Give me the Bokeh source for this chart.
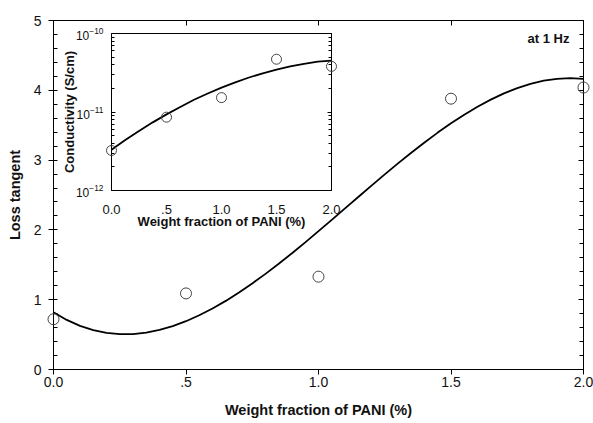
from bokeh.plotting import figure
from bokeh.models import (Range1d, LinearAxis, LogAxis, FixedTicker, Label,
                          SingleIntervalTicker, CustomJSTickFormatter)
from bokeh.embed import file_html
from bokeh.resources import INLINE

FONT = "Liberation Sans"

# ---- data: main plot (loss tangent at 1 Hz) ----
pani_wt = [0.0, 0.5, 1.0, 1.5, 2.0]
loss_tangent = [0.72, 1.09, 1.33, 3.88, 4.04]

fit_x = [0.00, 0.05, 0.10, 0.15, 0.20, 0.25, 0.30, 0.35, 0.40, 0.45,
         0.50, 0.55, 0.60, 0.65, 0.70, 0.75, 0.80, 0.85, 0.90, 0.95,
         1.00, 1.05, 1.10, 1.15, 1.20, 1.25, 1.30, 1.35, 1.40, 1.45,
         1.50, 1.55, 1.60, 1.65, 1.70, 1.75, 1.80, 1.85, 1.90, 1.95, 2.00]
fit_loss = [0.820, 0.710, 0.625, 0.564, 0.524, 0.506, 0.508, 0.529, 0.567, 0.622,
            0.692, 0.777, 0.874, 0.983, 1.103, 1.233, 1.370, 1.515, 1.666, 1.822,
            1.982, 2.144, 2.308, 2.472, 2.635, 2.795, 2.953, 3.106, 3.253, 3.394,
            3.528, 3.651, 3.764, 3.866, 3.956, 4.031, 4.092, 4.138, 4.165, 4.174, 4.164]

# ---- data: inset (conductivity, S/cm) ----
conductivity = [3.45e-12, 9.0e-12, 1.58e-11, 4.77e-11, 3.88e-11]
cond_fit_x = [0.0, 0.125, 0.25, 0.375, 0.5, 0.625, 0.75, 0.875, 1.0,
              1.125, 1.25, 1.375, 1.5, 1.625, 1.75, 1.875, 2.0]
cond_fit = [3.31e-12, 4.40e-12, 5.74e-12, 7.38e-12, 9.33e-12, 1.16e-11,
            1.43e-11, 1.72e-11, 2.04e-11, 2.39e-11, 2.75e-11, 3.11e-11,
            3.47e-11, 3.80e-11, 4.11e-11, 4.37e-11, 4.50e-11]

x_tick_values = [0, 0.5, 1, 1.5, 2]
x_tick_labels = ["0.0", ".5", "1.0", "1.5", "2.0"]
cond_major = [1e-12, 1e-11, 1e-10]
cond_minor = [m * 10.0 ** e for e in (-12, -11) for m in range(2, 10)]

blank = CustomJSTickFormatter(code="return ''")

# ---------------- geometry ----------------
W, H = 593, 423
BL, BR, BT, BB = 53, 10, 20, 54
X0, X1, Y0, Y1 = 0.0, 2.0, 0.0, 5.0

IBL, IBR, IBT, IBB = 66, 10, 13, 38
IFW, IFH = 220, 160
IW, IH = IBL + IFW + IBR, IBT + IFH + IBB
ILEFT, ITOP = 111 - IBL, 20
IY0, IY1 = 1e-12, 1e-10

M = 8  # extra room for markers at the frame edges


def style_axis(ax, tick_size, label_size):
    ax.axis_line_color = "black"
    ax.major_tick_line_color = "black"
    ax.minor_tick_line_color = "black"
    ax.major_label_text_font = FONT
    ax.major_label_text_font_size = tick_size
    ax.major_label_text_color = "#111111"
    ax.axis_label_text_font = FONT
    ax.axis_label_text_font_size = label_size
    ax.axis_label_text_font_style = "bold"
    ax.axis_label_text_color = "#111111"


def bare(fig):
    fig.grid.visible = False
    fig.outline_line_color = None
    fig.background_fill_alpha = 0
    fig.border_fill_alpha = 0


# ================= main figure =================
p = figure(width=W, height=H, output_backend="svg", toolbar_location=None,
           x_range=Range1d(X0, X1), y_range=Range1d(Y0, Y1),
           min_border_left=BL, min_border_right=BR, min_border_top=BT,
           min_border_bottom=BB,
           x_axis_label="Weight fraction of PANI (%)", y_axis_label="Loss tangent",
           styles={"position": "absolute", "left": "0px", "top": "0px"})
p.grid.visible = False
p.outline_line_color = "black"

xa = p.xaxis[0]
xa.ticker = FixedTicker(ticks=x_tick_values)
xa.major_label_overrides = dict(zip(x_tick_values, x_tick_labels))
xa.major_tick_out = 5
xa.major_tick_in = 0
xa.minor_tick_out = 0
xa.minor_tick_in = 0
xa.major_label_standoff = 2
xa.axis_label_standoff = 12
style_axis(xa, "14px", "14.5px")

ya = p.yaxis[0]
ya.ticker = SingleIntervalTicker(interval=1, num_minor_ticks=5)
ya.major_tick_out = 5
ya.major_tick_in = 0
ya.minor_tick_out = 0
ya.minor_tick_in = 4
ya.major_label_standoff = 7
ya.axis_label_standoff = 8
style_axis(ya, "14px", "14.5px")

top = LinearAxis(ticker=FixedTicker(ticks=x_tick_values), formatter=blank,
                 major_tick_in=5, major_tick_out=0, minor_tick_in=0, minor_tick_out=0,
                 major_label_standoff=0, major_label_text_font_size="8px",
                 axis_line_color="black", major_tick_line_color="black")
p.add_layout(top, "above")
right = LinearAxis(ticker=SingleIntervalTicker(interval=1, num_minor_ticks=5),
                   formatter=blank,
                   major_tick_in=5, major_tick_out=0, minor_tick_in=4, minor_tick_out=0,
                   major_label_standoff=0, major_label_text_font_size="8px",
                   axis_line_color="black", major_tick_line_color="black",
                   minor_tick_line_color="black")
p.add_layout(right, "right")

p.line(fit_x, fit_loss, line_color="black", line_width=1.8)

p.add_layout(Label(x=1.868, y=4.74, text="at 1 Hz", text_font=FONT,
                   text_font_size="13px", text_font_style="bold",
                   text_align="center", text_baseline="middle",
                   text_color="#111111"))

# overlay for the markers (so edge markers are not clipped)
fw = W - BL - BR
fh = H - BT - BB
xp = M * (X1 - X0) / fw
yp = M * (Y1 - Y0) / fh
po = figure(width=W, height=H, output_backend="svg", toolbar_location=None,
            x_range=Range1d(X0 - xp, X1 + xp), y_range=Range1d(Y0 - yp, Y1 + yp),
            min_border_left=BL - M, min_border_right=BR - M,
            min_border_top=BT - M, min_border_bottom=BB - M,
            x_axis_location=None, y_axis_location=None,
            styles={"position": "absolute", "left": "0px", "top": "0px"})
bare(po)
po.scatter(pani_wt, loss_tangent, marker="circle", size=11, fill_color=None,
           line_color="#444444", line_width=1)

# ================= inset figure =================
ins = figure(width=IW, height=IH, output_backend="svg", toolbar_location=None,
             x_range=Range1d(X0, X1), y_range=Range1d(IY0, IY1), y_axis_type="log",
             min_border_left=IBL, min_border_right=IBR, min_border_top=IBT,
             min_border_bottom=IBB,
             x_axis_label="Weight fraction of PANI (%)",
             y_axis_label="Conductivity (S/cm)",
             styles={"position": "absolute", "left": f"{ILEFT}px", "top": f"{ITOP}px"})
ins.grid.visible = False
ins.outline_line_color = "black"
ins.background_fill_alpha = 0
ins.border_fill_alpha = 0

ixa = ins.xaxis[0]
ixa.ticker = FixedTicker(ticks=x_tick_values)
ixa.major_label_overrides = dict(zip(x_tick_values, x_tick_labels))
ixa.major_tick_out = 0
ixa.major_tick_in = 0
ixa.minor_tick_out = 0
ixa.minor_tick_in = 0
ixa.major_label_standoff = 14
ixa.axis_label_standoff = -3
style_axis(ixa, "13px", "13px")

iya = ins.yaxis[0]
iya.ticker = FixedTicker(ticks=cond_major, minor_ticks=cond_minor)
iya.major_tick_out = 0
iya.major_tick_in = 4
iya.minor_tick_out = 0
iya.minor_tick_in = 3
iya.major_label_standoff = 8
iya.axis_label_standoff = -4
style_axis(iya, "12px", "13px")

iright = LogAxis(ticker=FixedTicker(ticks=cond_major, minor_ticks=cond_minor),
                 formatter=blank,
                 major_tick_in=4, major_tick_out=0, minor_tick_in=3, minor_tick_out=0,
                 major_label_standoff=0, major_label_text_font_size="8px",
                 axis_line_color="black", major_tick_line_color="black",
                 minor_tick_line_color="black")
ins.add_layout(iright, "right")

ins.line(cond_fit_x, cond_fit, line_color="black", line_width=1.8)

ixp = M * (X1 - X0) / IFW
iyf = 10.0 ** (M * 2.0 / IFH)  # two decades over the frame height
io = figure(width=IW, height=IH, output_backend="svg", toolbar_location=None,
            x_range=Range1d(X0 - ixp, X1 + ixp),
            y_range=Range1d(IY0 / iyf, IY1 * iyf), y_axis_type="log",
            min_border_left=IBL - M, min_border_right=IBR - M,
            min_border_top=IBT - M, min_border_bottom=IBB - M,
            x_axis_location=None, y_axis_location=None,
            styles={"position": "absolute", "left": f"{ILEFT}px", "top": f"{ITOP}px"})
bare(io)
io.scatter(pani_wt, conductivity, marker="circle", size=10, fill_color=None,
           line_color="#444444", line_width=1)

open("out.html", "w").write(file_html([p, po, ins, io], INLINE))
